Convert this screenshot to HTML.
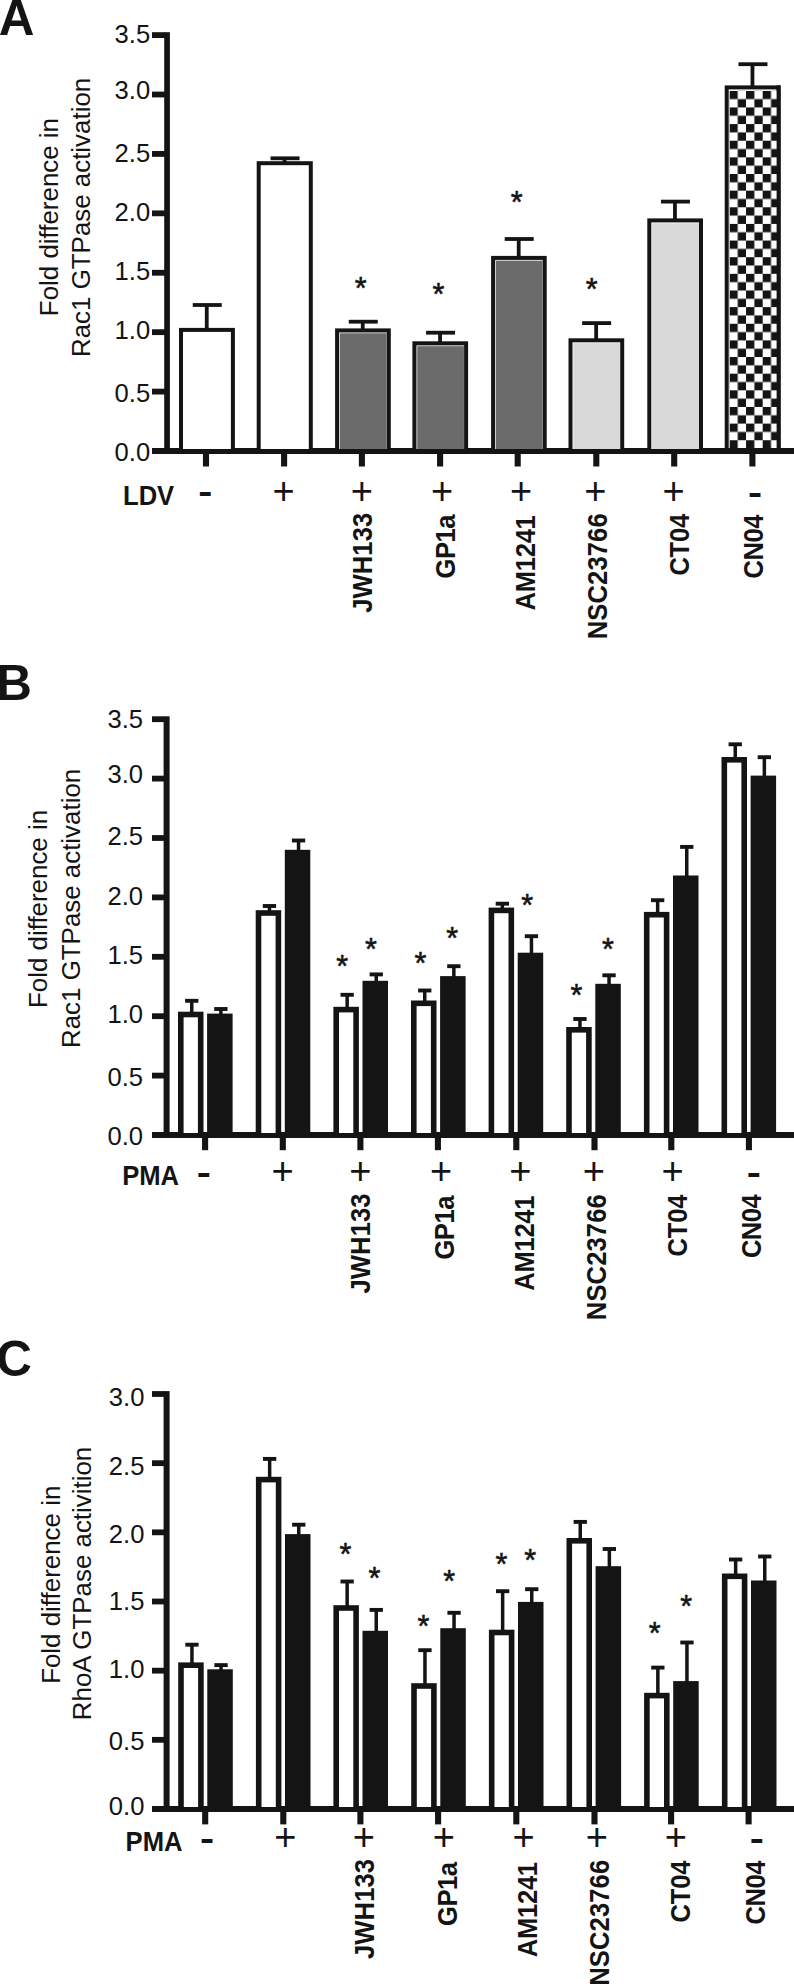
<!DOCTYPE html>
<html><head><meta charset="utf-8"><title>Figure</title>
<style>html,body{margin:0;padding:0;background:#fff}svg{display:block}text{font-family:"Liberation Sans",sans-serif;fill:#141414}</style>
</head><body>
<svg width="794" height="1987" viewBox="0 0 794 1987" shape-rendering="auto">
<rect width="794" height="1987" fill="#fff"/>
<text font-size="50.8" font-weight="bold" transform="translate(-1.35 34.80) scale(0.973 1)" x="0" y="0">A</text>
<rect x="164.20" y="32.20" width="5.70" height="418.80" fill="#141414"/>
<rect x="152.00" y="448.00" width="642.00" height="6.00" fill="#141414"/>
<text x="150.20" y="461.30" font-size="25.6" text-anchor="end">0.0</text>
<rect x="152.00" y="388.69" width="13.20" height="5.80" fill="#141414"/>
<text x="150.20" y="401.70" font-size="25.6" text-anchor="end">0.5</text>
<rect x="152.00" y="329.27" width="13.20" height="5.80" fill="#141414"/>
<text x="150.20" y="339.20" font-size="25.6" text-anchor="end">1.0</text>
<rect x="152.00" y="269.86" width="13.20" height="5.80" fill="#141414"/>
<text x="150.20" y="279.60" font-size="25.6" text-anchor="end">1.5</text>
<rect x="152.00" y="210.44" width="13.20" height="5.80" fill="#141414"/>
<text x="150.20" y="221.10" font-size="25.6" text-anchor="end">2.0</text>
<rect x="152.00" y="151.03" width="13.20" height="5.80" fill="#141414"/>
<text x="150.20" y="161.50" font-size="25.6" text-anchor="end">2.5</text>
<rect x="152.00" y="91.61" width="13.20" height="5.80" fill="#141414"/>
<text x="150.20" y="99.20" font-size="25.6" text-anchor="end">3.0</text>
<rect x="152.00" y="32.20" width="13.20" height="5.80" fill="#141414"/>
<text x="150.20" y="43.10" font-size="25.6" text-anchor="end">3.5</text>
<rect x="202.95" y="451.00" width="6.10" height="15.50" fill="#141414"/>
<rect x="281.05" y="451.00" width="6.10" height="15.50" fill="#141414"/>
<rect x="358.85" y="451.00" width="6.10" height="15.50" fill="#141414"/>
<rect x="437.05" y="451.00" width="6.10" height="15.50" fill="#141414"/>
<rect x="514.65" y="451.00" width="6.10" height="15.50" fill="#141414"/>
<rect x="593.25" y="451.00" width="6.10" height="15.50" fill="#141414"/>
<rect x="671.15" y="451.00" width="6.10" height="15.50" fill="#141414"/>
<rect x="749.35" y="451.00" width="6.10" height="15.50" fill="#141414"/>
<text x="58.00" y="217.10" font-size="25.9" text-anchor="middle" transform="rotate(-90 58.00 217.10)">Fold difference in</text>
<text x="90.00" y="217.40" font-size="25.9" text-anchor="middle" transform="rotate(-90 90.00 217.40)">Rac1 GTPase activation</text>
<defs><pattern id="ck" x="729.4" y="90.8" width="16.64" height="16.64" patternUnits="userSpaceOnUse"><rect width="16.64" height="16.64" fill="#fff"/><rect width="8.32" height="8.32" fill="#141414"/><rect x="8.32" y="8.32" width="8.32" height="8.32" fill="#141414"/></pattern></defs>
<rect x="192.75" y="303.10" width="29.00" height="3.80" fill="#141414"/>
<rect x="204.85" y="305.00" width="3.80" height="23.90" fill="#141414"/>
<rect x="179.00" y="327.90" width="55.90" height="123.10" fill="#141414"/>
<rect x="183.00" y="331.90" width="47.90" height="117.10" fill="#fff"/>
<rect x="270.55" y="156.40" width="29.00" height="3.80" fill="#141414"/>
<rect x="282.65" y="158.30" width="3.80" height="3.90" fill="#141414"/>
<rect x="256.70" y="161.20" width="56.10" height="289.80" fill="#141414"/>
<rect x="260.70" y="165.20" width="48.10" height="283.80" fill="#fff"/>
<rect x="348.75" y="319.80" width="29.00" height="3.80" fill="#141414"/>
<rect x="360.85" y="321.70" width="3.80" height="7.70" fill="#141414"/>
<rect x="335.10" y="328.40" width="55.70" height="122.60" fill="#141414"/>
<rect x="339.10" y="332.40" width="47.70" height="116.60" fill="#e2e2e2"/>
<rect x="340.00" y="333.30" width="46.65" height="115.70" fill="#6b6b6b"/>
<rect x="426.05" y="330.80" width="29.00" height="3.80" fill="#141414"/>
<rect x="438.15" y="332.70" width="3.80" height="9.60" fill="#141414"/>
<rect x="412.40" y="341.30" width="55.70" height="109.70" fill="#141414"/>
<rect x="416.40" y="345.30" width="47.70" height="103.70" fill="#e2e2e2"/>
<rect x="417.30" y="346.20" width="46.65" height="102.80" fill="#6b6b6b"/>
<rect x="504.70" y="237.10" width="29.00" height="3.80" fill="#141414"/>
<rect x="516.80" y="239.00" width="3.80" height="17.90" fill="#141414"/>
<rect x="491.10" y="255.90" width="55.60" height="195.10" fill="#141414"/>
<rect x="495.10" y="259.90" width="47.60" height="189.10" fill="#e2e2e2"/>
<rect x="496.00" y="260.80" width="46.55" height="188.20" fill="#6b6b6b"/>
<rect x="582.15" y="321.20" width="29.00" height="3.80" fill="#141414"/>
<rect x="594.25" y="323.10" width="3.80" height="16.20" fill="#141414"/>
<rect x="568.50" y="338.30" width="55.70" height="112.70" fill="#141414"/>
<rect x="572.50" y="342.30" width="47.70" height="106.70" fill="#fafafa"/>
<rect x="573.40" y="343.20" width="46.65" height="105.80" fill="#d9d9d9"/>
<rect x="660.95" y="199.70" width="29.00" height="3.80" fill="#141414"/>
<rect x="673.05" y="201.60" width="3.80" height="17.80" fill="#141414"/>
<rect x="647.30" y="218.40" width="55.70" height="232.60" fill="#141414"/>
<rect x="651.30" y="222.40" width="47.70" height="226.60" fill="#fafafa"/>
<rect x="652.20" y="223.30" width="46.65" height="225.70" fill="#d9d9d9"/>
<rect x="738.45" y="62.30" width="29.00" height="3.80" fill="#141414"/>
<rect x="750.55" y="64.20" width="3.80" height="22.20" fill="#141414"/>
<rect x="724.70" y="85.40" width="55.90" height="365.60" fill="#141414"/>
<rect x="728.70" y="89.40" width="47.90" height="361.60" fill="#fff"/>
<rect x="729.50" y="90.80" width="50.10" height="358.20" fill="url(#ck)"/>
<rect x="776.60" y="85.40" width="4.00" height="365.60" fill="#141414"/>
<rect x="724.70" y="448.00" width="55.90" height="6.00" fill="#141414"/>
<text x="360.80" y="299.40" font-size="30.5" text-anchor="middle" stroke="#141414" stroke-width="0.55">*</text>
<text x="438.40" y="304.60" font-size="30.5" text-anchor="middle" stroke="#141414" stroke-width="0.55">*</text>
<text x="516.60" y="212.60" font-size="30.5" text-anchor="middle" stroke="#141414" stroke-width="0.55">*</text>
<text x="591.70" y="299.60" font-size="30.5" text-anchor="middle" stroke="#141414" stroke-width="0.55">*</text>
<text font-size="25.6" font-weight="bold" transform="translate(123.00 504.60) scale(1 1.05)" x="0" y="0">LDV</text>
<text font-size="25" font-weight="bold" text-anchor="middle" transform="translate(205.20 494.20) scale(1.7 1.3)" x="0" y="7">-</text>
<text x="283.70" y="504.30" font-size="38" text-anchor="middle">+</text>
<text x="361.90" y="504.30" font-size="38" text-anchor="middle">+</text>
<text x="442.10" y="504.30" font-size="38" text-anchor="middle">+</text>
<text x="521.20" y="504.30" font-size="38" text-anchor="middle">+</text>
<text x="595.40" y="504.30" font-size="38" text-anchor="middle">+</text>
<text x="673.60" y="504.30" font-size="38" text-anchor="middle">+</text>
<text font-size="25" font-weight="bold" text-anchor="middle" transform="translate(755.00 494.50) scale(1.7 1.3)" x="0" y="7">-</text>
<text font-size="25.6" font-weight="bold" text-anchor="end" textLength="100.0" lengthAdjust="spacing" transform="translate(371.50 512.80) rotate(-90) scale(1 1.06)" x="0" y="0">JWH133</text>
<text font-size="25.6" font-weight="bold" text-anchor="end" textLength="64.0" lengthAdjust="spacing" transform="translate(454.50 514.50) rotate(-90) scale(1 1.06)" x="0" y="0">GP1a</text>
<text font-size="25.6" font-weight="bold" text-anchor="end" textLength="95.3" lengthAdjust="spacing" transform="translate(535.00 515.20) rotate(-90) scale(1 1.06)" x="0" y="0">AM1241</text>
<text font-size="25.6" font-weight="bold" text-anchor="end" textLength="126.0" lengthAdjust="spacing" transform="translate(607.00 513.30) rotate(-90) scale(1 1.06)" x="0" y="0">NSC23766</text>
<text font-size="25.6" font-weight="bold" text-anchor="end" textLength="61.8" lengthAdjust="spacing" transform="translate(688.50 513.80) rotate(-90) scale(1 1.06)" x="0" y="0">CT04</text>
<text font-size="25.6" font-weight="bold" text-anchor="end" textLength="63.9" lengthAdjust="spacing" transform="translate(762.60 514.50) rotate(-90) scale(1 1.06)" x="0" y="0">CN04</text>
<text font-size="50.8" font-weight="bold" transform="translate(-3.70 700.30) scale(0.973 1)" x="0" y="0">B</text>
<rect x="163.60" y="716.30" width="6.00" height="418.70" fill="#141414"/>
<rect x="152.00" y="1132.00" width="642.00" height="6.00" fill="#141414"/>
<text x="143.00" y="1145.20" font-size="25.6" text-anchor="end">0.0</text>
<rect x="152.00" y="1072.70" width="12.60" height="5.80" fill="#141414"/>
<text x="143.00" y="1085.60" font-size="25.6" text-anchor="end">0.5</text>
<rect x="152.00" y="1013.30" width="12.60" height="5.80" fill="#141414"/>
<text x="143.00" y="1023.10" font-size="25.6" text-anchor="end">1.0</text>
<rect x="152.00" y="953.90" width="12.60" height="5.80" fill="#141414"/>
<text x="143.00" y="964.10" font-size="25.6" text-anchor="end">1.5</text>
<rect x="152.00" y="894.50" width="12.60" height="5.80" fill="#141414"/>
<text x="143.00" y="904.90" font-size="25.6" text-anchor="end">2.0</text>
<rect x="152.00" y="835.10" width="12.60" height="5.80" fill="#141414"/>
<text x="143.00" y="845.30" font-size="25.6" text-anchor="end">2.5</text>
<rect x="152.00" y="775.70" width="12.60" height="5.80" fill="#141414"/>
<text x="143.00" y="783.00" font-size="25.6" text-anchor="end">3.0</text>
<rect x="152.00" y="716.30" width="12.60" height="5.80" fill="#141414"/>
<text x="143.00" y="727.50" font-size="25.6" text-anchor="end">3.5</text>
<rect x="202.05" y="1135.00" width="6.10" height="15.20" fill="#141414"/>
<rect x="279.75" y="1135.00" width="6.10" height="15.20" fill="#141414"/>
<rect x="357.35" y="1135.00" width="6.10" height="15.20" fill="#141414"/>
<rect x="434.85" y="1135.00" width="6.10" height="15.20" fill="#141414"/>
<rect x="513.25" y="1135.00" width="6.10" height="15.20" fill="#141414"/>
<rect x="591.45" y="1135.00" width="6.10" height="15.20" fill="#141414"/>
<rect x="668.25" y="1135.00" width="6.10" height="15.20" fill="#141414"/>
<rect x="745.85" y="1135.00" width="6.10" height="15.20" fill="#141414"/>
<text x="47.20" y="909.00" font-size="25.9" text-anchor="middle" transform="rotate(-90 47.20 909.00)">Fold difference in</text>
<text x="79.80" y="908.40" font-size="25.9" text-anchor="middle" transform="rotate(-90 79.80 908.40)">Rac1 GTPase activation</text>
<rect x="185.10" y="998.85" width="13.30" height="3.90" fill="#141414"/>
<rect x="190.00" y="1000.80" width="3.50" height="13.70" fill="#141414"/>
<rect x="214.20" y="1007.05" width="13.30" height="3.90" fill="#141414"/>
<rect x="219.10" y="1009.00" width="3.50" height="7.40" fill="#141414"/>
<rect x="178.00" y="1011.70" width="25.50" height="123.30" fill="#141414"/>
<rect x="183.60" y="1017.30" width="14.30" height="115.70" fill="#fff"/>
<rect x="207.10" y="1013.60" width="25.50" height="121.40" fill="#141414"/>
<rect x="262.80" y="904.05" width="13.30" height="3.90" fill="#141414"/>
<rect x="267.70" y="906.00" width="3.50" height="7.00" fill="#141414"/>
<rect x="291.90" y="838.55" width="13.30" height="3.90" fill="#141414"/>
<rect x="296.80" y="840.50" width="3.50" height="12.10" fill="#141414"/>
<rect x="255.70" y="910.20" width="25.50" height="224.80" fill="#141414"/>
<rect x="261.30" y="915.80" width="14.30" height="217.20" fill="#fff"/>
<rect x="284.80" y="849.80" width="25.50" height="285.20" fill="#141414"/>
<rect x="340.50" y="992.85" width="13.30" height="3.90" fill="#141414"/>
<rect x="345.40" y="994.80" width="3.50" height="14.80" fill="#141414"/>
<rect x="369.60" y="972.45" width="13.30" height="3.90" fill="#141414"/>
<rect x="374.50" y="974.40" width="3.50" height="9.20" fill="#141414"/>
<rect x="333.40" y="1006.80" width="25.50" height="128.20" fill="#141414"/>
<rect x="339.00" y="1012.40" width="14.30" height="120.60" fill="#fff"/>
<rect x="362.50" y="980.80" width="25.50" height="154.20" fill="#141414"/>
<rect x="418.10" y="988.55" width="13.30" height="3.90" fill="#141414"/>
<rect x="423.00" y="990.50" width="3.50" height="12.80" fill="#141414"/>
<rect x="447.20" y="964.25" width="13.30" height="3.90" fill="#141414"/>
<rect x="452.10" y="966.20" width="3.50" height="12.70" fill="#141414"/>
<rect x="411.00" y="1000.50" width="25.50" height="134.50" fill="#141414"/>
<rect x="416.60" y="1006.10" width="14.30" height="126.90" fill="#fff"/>
<rect x="440.10" y="976.10" width="25.50" height="158.90" fill="#141414"/>
<rect x="495.70" y="901.75" width="13.30" height="3.90" fill="#141414"/>
<rect x="500.60" y="903.70" width="3.50" height="6.70" fill="#141414"/>
<rect x="524.80" y="934.25" width="13.30" height="3.90" fill="#141414"/>
<rect x="529.70" y="936.20" width="3.50" height="19.30" fill="#141414"/>
<rect x="488.60" y="907.60" width="25.50" height="227.40" fill="#141414"/>
<rect x="494.20" y="913.20" width="14.30" height="219.80" fill="#fff"/>
<rect x="517.70" y="952.70" width="25.50" height="182.30" fill="#141414"/>
<rect x="573.30" y="1017.05" width="13.30" height="3.90" fill="#141414"/>
<rect x="578.20" y="1019.00" width="3.50" height="10.80" fill="#141414"/>
<rect x="602.40" y="973.35" width="13.30" height="3.90" fill="#141414"/>
<rect x="607.30" y="975.30" width="3.50" height="11.30" fill="#141414"/>
<rect x="566.20" y="1027.00" width="25.50" height="108.00" fill="#141414"/>
<rect x="571.80" y="1032.60" width="14.30" height="100.40" fill="#fff"/>
<rect x="595.30" y="983.80" width="25.50" height="151.20" fill="#141414"/>
<rect x="651.00" y="898.25" width="13.30" height="3.90" fill="#141414"/>
<rect x="655.90" y="900.20" width="3.50" height="14.50" fill="#141414"/>
<rect x="680.10" y="844.95" width="13.30" height="3.90" fill="#141414"/>
<rect x="685.00" y="846.90" width="3.50" height="31.40" fill="#141414"/>
<rect x="643.90" y="911.90" width="25.50" height="223.10" fill="#141414"/>
<rect x="649.50" y="917.50" width="14.30" height="215.50" fill="#fff"/>
<rect x="673.00" y="875.50" width="25.50" height="259.50" fill="#141414"/>
<rect x="728.60" y="742.35" width="13.30" height="3.90" fill="#141414"/>
<rect x="733.50" y="744.30" width="3.50" height="15.50" fill="#141414"/>
<rect x="757.70" y="755.25" width="13.30" height="3.90" fill="#141414"/>
<rect x="762.60" y="757.20" width="3.50" height="21.20" fill="#141414"/>
<rect x="721.50" y="757.00" width="25.50" height="378.00" fill="#141414"/>
<rect x="727.10" y="762.60" width="14.30" height="370.40" fill="#fff"/>
<rect x="750.60" y="775.60" width="25.50" height="359.40" fill="#141414"/>
<text x="342.30" y="977.20" font-size="30.5" text-anchor="middle" stroke="#141414" stroke-width="0.55">*</text>
<text x="371.00" y="960.00" font-size="30.5" text-anchor="middle" stroke="#141414" stroke-width="0.55">*</text>
<text x="420.50" y="974.00" font-size="30.5" text-anchor="middle" stroke="#141414" stroke-width="0.55">*</text>
<text x="452.10" y="948.50" font-size="30.5" text-anchor="middle" stroke="#141414" stroke-width="0.55">*</text>
<text x="527.30" y="916.40" font-size="30.5" text-anchor="middle" stroke="#141414" stroke-width="0.55">*</text>
<text x="576.40" y="1006.20" font-size="30.5" text-anchor="middle" stroke="#141414" stroke-width="0.55">*</text>
<text x="608.00" y="959.80" font-size="30.5" text-anchor="middle" stroke="#141414" stroke-width="0.55">*</text>
<text font-size="25.6" font-weight="bold" transform="translate(122.20 1184.80) scale(1 1.05)" x="0" y="0">PMA</text>
<text font-size="25" font-weight="bold" text-anchor="middle" transform="translate(203.90 1174.70) scale(1.7 1.3)" x="0" y="7">-</text>
<text x="282.50" y="1184.00" font-size="38" text-anchor="middle">+</text>
<text x="360.40" y="1184.00" font-size="38" text-anchor="middle">+</text>
<text x="441.00" y="1184.00" font-size="38" text-anchor="middle">+</text>
<text x="520.30" y="1184.00" font-size="38" text-anchor="middle">+</text>
<text x="593.90" y="1184.00" font-size="38" text-anchor="middle">+</text>
<text x="672.60" y="1184.00" font-size="38" text-anchor="middle">+</text>
<text font-size="25" font-weight="bold" text-anchor="middle" transform="translate(753.70 1174.60) scale(1.7 1.3)" x="0" y="7">-</text>
<text font-size="25.6" font-weight="bold" text-anchor="end" textLength="100.0" lengthAdjust="spacing" transform="translate(370.00 1193.50) rotate(-90) scale(1 1.06)" x="0" y="0">JWH133</text>
<text font-size="25.6" font-weight="bold" text-anchor="end" textLength="64.0" lengthAdjust="spacing" transform="translate(453.50 1195.60) rotate(-90) scale(1 1.06)" x="0" y="0">GP1a</text>
<text font-size="25.6" font-weight="bold" text-anchor="end" textLength="95.3" lengthAdjust="spacing" transform="translate(533.50 1195.50) rotate(-90) scale(1 1.06)" x="0" y="0">AM1241</text>
<text font-size="25.6" font-weight="bold" text-anchor="end" textLength="126.0" lengthAdjust="spacing" transform="translate(605.50 1194.20) rotate(-90) scale(1 1.06)" x="0" y="0">NSC23766</text>
<text font-size="25.6" font-weight="bold" text-anchor="end" textLength="61.8" lengthAdjust="spacing" transform="translate(687.00 1194.60) rotate(-90) scale(1 1.06)" x="0" y="0">CT04</text>
<text font-size="25.6" font-weight="bold" text-anchor="end" textLength="63.9" lengthAdjust="spacing" transform="translate(761.00 1194.20) rotate(-90) scale(1 1.06)" x="0" y="0">CN04</text>
<text font-size="50.8" font-weight="bold" transform="translate(-3.70 1376.10) scale(0.973 1)" x="0" y="0">C</text>
<rect x="163.60" y="1391.10" width="6.00" height="417.90" fill="#141414"/>
<rect x="152.00" y="1806.00" width="642.00" height="6.00" fill="#141414"/>
<text x="144.40" y="1814.50" font-size="25.6" text-anchor="end">0.0</text>
<rect x="152.00" y="1736.93" width="12.60" height="5.80" fill="#141414"/>
<text x="144.40" y="1749.70" font-size="25.6" text-anchor="end">0.5</text>
<rect x="152.00" y="1667.77" width="12.60" height="5.80" fill="#141414"/>
<text x="144.40" y="1678.20" font-size="25.6" text-anchor="end">1.0</text>
<rect x="152.00" y="1598.60" width="12.60" height="5.80" fill="#141414"/>
<text x="144.40" y="1610.20" font-size="25.6" text-anchor="end">1.5</text>
<rect x="152.00" y="1529.43" width="12.60" height="5.80" fill="#141414"/>
<text x="144.40" y="1542.50" font-size="25.6" text-anchor="end">2.0</text>
<rect x="152.00" y="1460.27" width="12.60" height="5.80" fill="#141414"/>
<text x="144.40" y="1474.80" font-size="25.6" text-anchor="end">2.5</text>
<rect x="152.00" y="1391.10" width="12.60" height="5.80" fill="#141414"/>
<text x="144.40" y="1406.20" font-size="25.6" text-anchor="end">3.0</text>
<rect x="202.15" y="1809.00" width="6.10" height="15.40" fill="#141414"/>
<rect x="280.25" y="1809.00" width="6.10" height="15.40" fill="#141414"/>
<rect x="357.35" y="1809.00" width="6.10" height="15.40" fill="#141414"/>
<rect x="435.05" y="1809.00" width="6.10" height="15.40" fill="#141414"/>
<rect x="513.25" y="1809.00" width="6.10" height="15.40" fill="#141414"/>
<rect x="591.45" y="1809.00" width="6.10" height="15.40" fill="#141414"/>
<rect x="668.05" y="1809.00" width="6.10" height="15.40" fill="#141414"/>
<rect x="745.55" y="1809.00" width="6.10" height="15.40" fill="#141414"/>
<text x="59.90" y="1584.80" font-size="25.9" text-anchor="middle" transform="rotate(-90 59.90 1584.80)">Fold difference in</text>
<text x="90.90" y="1583.50" font-size="25.9" text-anchor="middle" transform="rotate(-90 90.90 1583.50)">RhoA GTPase activition</text>
<rect x="185.30" y="1642.75" width="13.30" height="3.90" fill="#141414"/>
<rect x="190.20" y="1644.70" width="3.50" height="20.50" fill="#141414"/>
<rect x="214.40" y="1663.15" width="13.30" height="3.90" fill="#141414"/>
<rect x="219.30" y="1665.10" width="3.50" height="7.00" fill="#141414"/>
<rect x="178.20" y="1662.40" width="25.50" height="146.60" fill="#141414"/>
<rect x="183.80" y="1668.00" width="14.30" height="139.00" fill="#fff"/>
<rect x="207.30" y="1669.30" width="25.50" height="139.70" fill="#141414"/>
<rect x="263.00" y="1456.95" width="13.30" height="3.90" fill="#141414"/>
<rect x="267.90" y="1458.90" width="3.50" height="20.70" fill="#141414"/>
<rect x="292.10" y="1522.75" width="13.30" height="3.90" fill="#141414"/>
<rect x="297.00" y="1524.70" width="3.50" height="12.20" fill="#141414"/>
<rect x="255.90" y="1476.80" width="25.50" height="332.20" fill="#141414"/>
<rect x="261.50" y="1482.40" width="14.30" height="324.60" fill="#fff"/>
<rect x="285.00" y="1534.10" width="25.50" height="274.90" fill="#141414"/>
<rect x="340.50" y="1579.55" width="13.30" height="3.90" fill="#141414"/>
<rect x="345.40" y="1581.50" width="3.50" height="26.50" fill="#141414"/>
<rect x="369.60" y="1607.95" width="13.30" height="3.90" fill="#141414"/>
<rect x="374.50" y="1609.90" width="3.50" height="23.70" fill="#141414"/>
<rect x="333.40" y="1605.20" width="25.50" height="203.80" fill="#141414"/>
<rect x="339.00" y="1610.80" width="14.30" height="196.20" fill="#fff"/>
<rect x="362.50" y="1630.80" width="25.50" height="178.20" fill="#141414"/>
<rect x="418.30" y="1648.25" width="13.30" height="3.90" fill="#141414"/>
<rect x="423.20" y="1650.20" width="3.50" height="35.80" fill="#141414"/>
<rect x="447.40" y="1610.85" width="13.30" height="3.90" fill="#141414"/>
<rect x="452.30" y="1612.80" width="3.50" height="18.20" fill="#141414"/>
<rect x="411.20" y="1683.20" width="25.50" height="125.80" fill="#141414"/>
<rect x="416.80" y="1688.80" width="14.30" height="118.20" fill="#fff"/>
<rect x="440.30" y="1628.20" width="25.50" height="180.80" fill="#141414"/>
<rect x="496.00" y="1589.25" width="13.30" height="3.90" fill="#141414"/>
<rect x="500.90" y="1591.20" width="3.50" height="41.30" fill="#141414"/>
<rect x="525.10" y="1587.25" width="13.30" height="3.90" fill="#141414"/>
<rect x="530.00" y="1589.20" width="3.50" height="15.50" fill="#141414"/>
<rect x="488.90" y="1629.70" width="25.50" height="179.30" fill="#141414"/>
<rect x="494.50" y="1635.30" width="14.30" height="171.70" fill="#fff"/>
<rect x="518.00" y="1601.90" width="25.50" height="207.10" fill="#141414"/>
<rect x="573.60" y="1519.95" width="13.30" height="3.90" fill="#141414"/>
<rect x="578.50" y="1521.90" width="3.50" height="18.90" fill="#141414"/>
<rect x="602.70" y="1547.05" width="13.30" height="3.90" fill="#141414"/>
<rect x="607.60" y="1549.00" width="3.50" height="20.00" fill="#141414"/>
<rect x="566.50" y="1538.00" width="25.50" height="271.00" fill="#141414"/>
<rect x="572.10" y="1543.60" width="14.30" height="263.40" fill="#fff"/>
<rect x="595.60" y="1566.20" width="25.50" height="242.80" fill="#141414"/>
<rect x="651.20" y="1665.65" width="13.30" height="3.90" fill="#141414"/>
<rect x="656.10" y="1667.60" width="3.50" height="28.00" fill="#141414"/>
<rect x="680.30" y="1640.55" width="13.30" height="3.90" fill="#141414"/>
<rect x="685.20" y="1642.50" width="3.50" height="41.40" fill="#141414"/>
<rect x="644.10" y="1692.80" width="25.50" height="116.20" fill="#141414"/>
<rect x="649.70" y="1698.40" width="14.30" height="108.60" fill="#fff"/>
<rect x="673.20" y="1681.10" width="25.50" height="127.90" fill="#141414"/>
<rect x="729.00" y="1557.55" width="13.30" height="3.90" fill="#141414"/>
<rect x="733.90" y="1559.50" width="3.50" height="16.80" fill="#141414"/>
<rect x="758.10" y="1554.55" width="13.30" height="3.90" fill="#141414"/>
<rect x="763.00" y="1556.50" width="3.50" height="26.80" fill="#141414"/>
<rect x="721.90" y="1573.50" width="25.50" height="235.50" fill="#141414"/>
<rect x="727.50" y="1579.10" width="14.30" height="227.90" fill="#fff"/>
<rect x="751.00" y="1580.50" width="25.50" height="228.50" fill="#141414"/>
<text x="345.50" y="1565.30" font-size="30.5" text-anchor="middle" stroke="#141414" stroke-width="0.55">*</text>
<text x="374.40" y="1588.50" font-size="30.5" text-anchor="middle" stroke="#141414" stroke-width="0.55">*</text>
<text x="423.40" y="1637.40" font-size="30.5" text-anchor="middle" stroke="#141414" stroke-width="0.55">*</text>
<text x="449.20" y="1591.60" font-size="30.5" text-anchor="middle" stroke="#141414" stroke-width="0.55">*</text>
<text x="501.50" y="1574.50" font-size="30.5" text-anchor="middle" stroke="#141414" stroke-width="0.55">*</text>
<text x="530.30" y="1571.10" font-size="30.5" text-anchor="middle" stroke="#141414" stroke-width="0.55">*</text>
<text x="654.60" y="1643.60" font-size="30.5" text-anchor="middle" stroke="#141414" stroke-width="0.55">*</text>
<text x="686.30" y="1617.30" font-size="30.5" text-anchor="middle" stroke="#141414" stroke-width="0.55">*</text>
<text font-size="25.6" font-weight="bold" transform="translate(125.60 1850.50) scale(1 1.05)" x="0" y="0">PMA</text>
<text font-size="25" font-weight="bold" text-anchor="middle" transform="translate(207.10 1840.50) scale(1.7 1.3)" x="0" y="7">-</text>
<text x="285.40" y="1850.10" font-size="38" text-anchor="middle">+</text>
<text x="363.90" y="1850.10" font-size="38" text-anchor="middle">+</text>
<text x="443.80" y="1850.10" font-size="38" text-anchor="middle">+</text>
<text x="523.50" y="1850.10" font-size="38" text-anchor="middle">+</text>
<text x="596.80" y="1850.10" font-size="38" text-anchor="middle">+</text>
<text x="675.80" y="1850.10" font-size="38" text-anchor="middle">+</text>
<text font-size="25" font-weight="bold" text-anchor="middle" transform="translate(756.70 1840.40) scale(1.7 1.3)" x="0" y="7">-</text>
<text font-size="25.6" font-weight="bold" text-anchor="end" textLength="100.0" lengthAdjust="spacing" transform="translate(373.50 1859.00) rotate(-90) scale(1 1.06)" x="0" y="0">JWH133</text>
<text font-size="25.6" font-weight="bold" text-anchor="end" textLength="64.0" lengthAdjust="spacing" transform="translate(456.50 1862.00) rotate(-90) scale(1 1.06)" x="0" y="0">GP1a</text>
<text font-size="25.6" font-weight="bold" text-anchor="end" textLength="95.3" lengthAdjust="spacing" transform="translate(536.50 1861.90) rotate(-90) scale(1 1.06)" x="0" y="0">AM1241</text>
<text font-size="25.6" font-weight="bold" text-anchor="end" textLength="126.0" lengthAdjust="spacing" transform="translate(608.70 1859.80) rotate(-90) scale(1 1.06)" x="0" y="0">NSC23766</text>
<text font-size="25.6" font-weight="bold" text-anchor="end" textLength="61.8" lengthAdjust="spacing" transform="translate(690.20 1860.60) rotate(-90) scale(1 1.06)" x="0" y="0">CT04</text>
<text font-size="25.6" font-weight="bold" text-anchor="end" textLength="63.9" lengthAdjust="spacing" transform="translate(764.50 1860.60) rotate(-90) scale(1 1.06)" x="0" y="0">CN04</text>
</svg>
</body></html>
